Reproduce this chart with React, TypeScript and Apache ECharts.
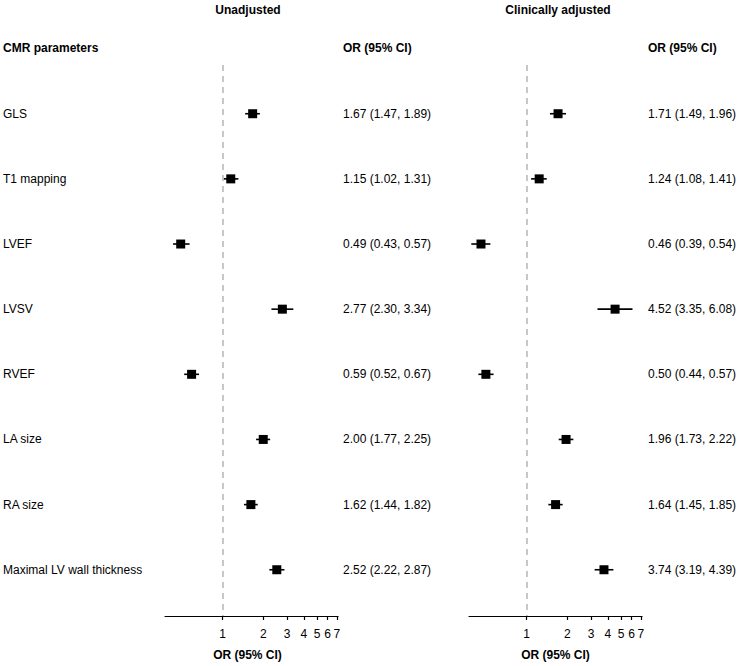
import React, { useEffect, useRef } from "react";
import * as echarts from "echarts";

const parameters = [
  "GLS",
  "T1 mapping",
  "LVEF",
  "LVSV",
  "RVEF",
  "LA size",
  "RA size",
  "Maximal LV wall thickness",
];

const unadjOR = [1.67, 1.15, 0.49, 2.77, 0.59, 2.0, 1.62, 2.52];
const unadjLow = [1.47, 1.02, 0.43, 2.3, 0.52, 1.77, 1.44, 2.22];
const unadjHigh = [1.89, 1.31, 0.57, 3.34, 0.67, 2.25, 1.82, 2.87];

const adjOR = [1.71, 1.24, 0.46, 4.52, 0.5, 1.96, 1.64, 3.74];
const adjLow = [1.49, 1.08, 0.39, 3.35, 0.44, 1.73, 1.45, 3.19];
const adjHigh = [1.96, 1.41, 0.54, 6.08, 0.57, 2.22, 1.85, 4.39];

const xTicks = [1, 2, 3, 4, 5, 6, 7];
const rowIdx = parameters.map((_, i) => i);

const FONT = "'Liberation Sans', Arial, sans-serif";

const fmt = (v: number) => v.toFixed(2);
const orText = (e: number[], l: number[], h: number[]) =>
  e.map((v, i) => `${fmt(v)} (${fmt(l[i])}, ${fmt(h[i])})`);

const unadjText = orText(unadjOR, unadjLow, unadjHigh);
const adjText = orText(adjOR, adjLow, adjHigh);

function renderCI(params: any, api: any) {
  const y = api.value(1);
  const c = api.coord([api.value(0), y]);
  const l = api.coord([api.value(2), y]);
  const h = api.coord([api.value(3), y]);
  return {
    type: "group",
    children: [
      {
        type: "line",
        shape: { x1: l[0], y1: l[1], x2: h[0], y2: h[1] },
        style: { stroke: "#000", lineWidth: 1.6 },
      },
      {
        type: "rect",
        shape: { x: c[0] - 4.5, y: c[1] - 4.5, width: 9, height: 9 },
        style: { fill: "#000" },
      },
    ],
  };
}

export default function App() {
  const ref = useRef<HTMLDivElement>(null);
  useEffect(() => {
    document.body.style.margin = "0";
    const chart = echarts.init(ref.current!, null, { renderer: "svg" });
    const xAxisBase = (gridIndex: number, namePad: number[]) => ({
      gridIndex,
      type: "log",
      logBase: 10,
      min: 0.375,
      max: 7.15,
      name: "OR (95% CI)",
      nameLocation: "middle",
      nameGap: 33,
      nameTextStyle: { fontFamily: FONT, fontSize: 12, fontWeight: "bold", color: "#000", padding: namePad },
      axisLine: { show: true, onZero: false, lineStyle: { color: "#000", width: 1.2 } },
      axisTick: { show: true, length: 4, customValues: xTicks, lineStyle: { color: "#000", width: 1.2 } },
      axisLabel: {
        customValues: xTicks,
        margin: 12,
        fontFamily: FONT,
        fontSize: 12,
        color: "#000",
        formatter: (v: number) => String(Math.round(v)),
      },
      splitLine: { show: false },
      minorTick: { show: false },
      minorSplitLine: { show: false },
    });
    const yBase = {
      type: "value",
      inverse: true,
      min: -0.748,
      max: 7.71,
      axisLine: { show: false },
      axisTick: { show: false },
      splitLine: { show: false },
    };
    const markLine = {
      silent: true,
      symbol: "none",
      label: { show: false },
      lineStyle: { color: "#b5b5b5", type: [6, 5], width: 1.5 },
      data: [{ xAxis: 1 }],
    };
    chart.setOption({
      animation: false,
      backgroundColor: "#fff",
      textStyle: { fontFamily: FONT },
      grid: [
        { left: 165, width: 173, top: 65, height: 554 },
        { left: 469, width: 173, top: 65, height: 554 },
      ],
      xAxis: [xAxisBase(0, [0, 8, 0, 0]), xAxisBase(1, [0, 0, 0, 0])],
      yAxis: [
        {
          ...yBase,
          gridIndex: 0,
          position: "left",
          axisLabel: {
            customValues: rowIdx,
            align: "left",
            margin: 162,
            fontFamily: FONT,
            fontSize: 12,
            color: "#000",
            formatter: (v: number) => parameters[Math.round(v)],
          },
        },
        {
          ...yBase,
          gridIndex: 0,
          position: "right",
          axisLabel: {
            customValues: rowIdx,
            align: "left",
            margin: 5,
            fontFamily: FONT,
            fontSize: 12,
            color: "#000",
            formatter: (v: number) => unadjText[Math.round(v)],
          },
        },
        {
          ...yBase,
          gridIndex: 1,
          position: "right",
          axisLabel: {
            customValues: rowIdx,
            align: "left",
            margin: 6,
            fontFamily: FONT,
            fontSize: 12,
            color: "#000",
            formatter: (v: number) => adjText[Math.round(v)],
          },
        },
      ],
      graphic: [
        { type: "text", x: 248, y: 10, style: { text: "Unadjusted", font: `bold 12px ${FONT}`, fill: "#000", align: "center", verticalAlign: "middle" } },
        { type: "text", x: 558, y: 10, style: { text: "Clinically adjusted", font: `bold 12px ${FONT}`, fill: "#000", align: "center", verticalAlign: "middle" } },
        { type: "text", x: 3, y: 48, style: { text: "CMR parameters", font: `bold 12px ${FONT}`, fill: "#000", align: "left", verticalAlign: "middle" } },
        { type: "text", x: 343, y: 48, style: { text: "OR (95% CI)", font: `bold 12px ${FONT}`, fill: "#000", align: "left", verticalAlign: "middle" } },
        { type: "text", x: 648, y: 48, style: { text: "OR (95% CI)", font: `bold 12px ${FONT}`, fill: "#000", align: "left", verticalAlign: "middle" } },
      ],
      series: [
        {
          type: "custom",
          xAxisIndex: 0,
          yAxisIndex: 0,
          renderItem: renderCI,
          encode: { x: 0, y: 1 },
          data: unadjOR.map((v, i) => [v, i, unadjLow[i], unadjHigh[i]]),
          markLine,
          z: 3,
        },
        {
          type: "custom",
          xAxisIndex: 1,
          yAxisIndex: 2,
          renderItem: renderCI,
          encode: { x: 0, y: 1 },
          data: adjOR.map((v, i) => [v, i, adjLow[i], adjHigh[i]]),
          markLine,
          z: 3,
        },
      ],
    });
    return () => chart.dispose();
  }, []);
  return <div ref={ref} style={{ width: 742, height: 666 }} />;
}
